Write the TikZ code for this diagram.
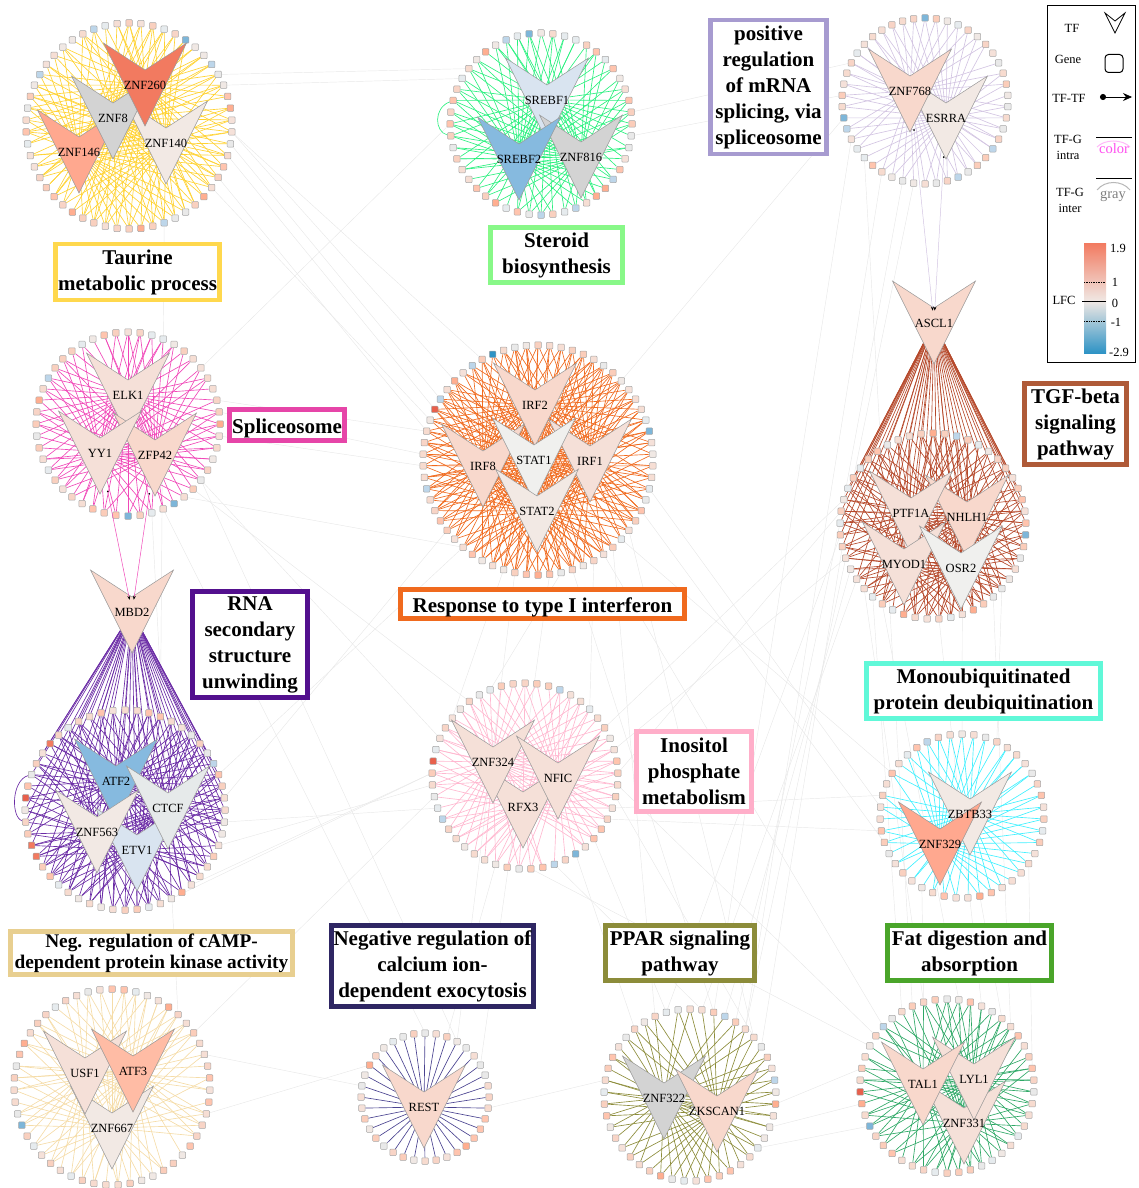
\documentclass[tikz,border=0pt]{standalone}
\usepackage{fontspec}
\setmainfont{Liberation Serif}
\usepackage{tikz}
\usetikzlibrary{arrows.meta, positioning, calc}
\usepackage{xcolor}
% tf fills
\definecolor{tfred}{HTML}{F27A60}
\definecolor{tfsalmon}{HTML}{FFA88F}
\definecolor{tfcoral}{HTML}{FFBCA5}
\definecolor{tfpeach}{HTML}{F8D8CC}
\definecolor{tfblush}{HTML}{F5E0D8}
\definecolor{tfcream}{HTML}{F2E9E4}
\definecolor{tfsnow}{HTML}{F0F0EE}
\definecolor{tfgray}{HTML}{D3D3D3}
\definecolor{tfmist}{HTML}{E6EAEA}
\definecolor{tfice}{HTML}{D9E4F0}
\definecolor{tfsky}{HTML}{86BADF}
% gene fills
\definecolor{g0}{HTML}{F8D4C6}
\definecolor{g1}{HTML}{F7DBCF}
\definecolor{g2}{HTML}{F5E1D9}
\definecolor{g3}{HTML}{F0E8E4}
\definecolor{g4}{HTML}{E9E9E9}
\definecolor{g5}{HTML}{FBCDBA}
\definecolor{g6}{HTML}{FFC4AE}
\definecolor{g7}{HTML}{F9D0BF}
\definecolor{g8}{HTML}{F6DED4}
\definecolor{g9}{HTML}{E6EBEE}
\definecolor{gblue}{HTML}{7DB6D9}
\definecolor{gpale}{HTML}{BDD6EA}
\definecolor{gdeep}{HTML}{2E93C5}
\definecolor{gorange}{HTML}{FFAE90}
\definecolor{gred}{HTML}{E8604C}
% module colours
\definecolor{cyellow}{HTML}{FFD84D}
\definecolor{cgreen}{HTML}{88F888}
\definecolor{clilac}{HTML}{A79BD0}
\definecolor{cmagenta}{HTML}{E645A8}
\definecolor{corange}{HTML}{F06A1E}
\definecolor{cviolet}{HTML}{53108E}
\definecolor{cbrown}{HTML}{AF5A38}
\definecolor{caqua}{HTML}{60F8D8}
\definecolor{cpink}{HTML}{FFAEC9}
\definecolor{csand}{HTML}{E8CF90}
\definecolor{cindigo}{HTML}{2E2663}
\definecolor{colive}{HTML}{8C8C3A}
\definecolor{cleaf}{HTML}{4AA52A}
% edge colours
\definecolor{eyellow}{HTML}{FFD232}
\definecolor{egreen}{HTML}{2BF07F}
\definecolor{elilac}{HTML}{D3C5E2}
\definecolor{ebrown}{HTML}{B5482A}
\definecolor{epink}{HTML}{F048B8}
\definecolor{eviolet}{HTML}{6A2BA5}
\definecolor{erose}{HTML}{FFB8D0}
\definecolor{ecyan}{HTML}{40F0FF}
\definecolor{esand}{HTML}{F5DCA8}
\definecolor{eindigo}{HTML}{4A4390}
\definecolor{eleaf}{HTML}{2EA866}
\definecolor{lmagenta}{HTML}{FF50F0}
\pgfdeclarelayer{interlayer}
\pgfdeclarelayer{edgelayer}
\pgfsetlayers{interlayer,edgelayer,main}
\tikzset{
    gene/.style={rectangle, draw=black!35, line width=0.5pt, rounded corners=0.8pt,
                 minimum size=6.5pt, inner sep=0pt},
    tfshape/.style={draw=black!40, line width=0.5pt},
    tflabel/.style={inner sep=0pt, font=\fontsize{12.5}{14}\selectfont},
    tfg/.style={line width=0.65pt},
    tftf/.style={line width=0.5pt, {Circle[length=1.6pt,black]}-{Stealth[length=4pt,black]},
                 shorten <=34pt, shorten >=8pt},
    inter/.style={draw=black!9, line width=0.45pt},
    term/.style={rectangle, draw, line width=4.5pt, fill=white, align=center, inner sep=0pt,
                 font=\fontsize{21}{26}\selectfont\bfseries,
                 execute at begin node={\rule{0pt}{1.05em}}},
    legendtext/.style={inner sep=0pt, align=center, font=\fontsize{12.5}{16}\selectfont},
}
% ring: name, cx, cy, r, count, edge colour, edge density, accents, tf list
\newcommand{\genering}[9]{%
  \pgfmathtruncatemacro{\lastg}{#5-1}%
  \foreach \i/\hue in {#8} {\expandafter\xdef\csname hue#1-\i\endcsname{\hue}}%
  \foreach \i in {0,...,\lastg} {
    \pgfmathrandominteger{\k}{0}{9}
    \ifcsname hue#1-\i\endcsname \edef\gc{\csname hue#1-\i\endcsname}\else \edef\gc{g\k}\fi
    \node[gene, fill=\gc] (#1-\i) at ({#2+#4*cos(360/#5*\i-90)},{#3+#4*sin(360/#5*\i-90)}) {};
  }
  \foreach \tf/\tx/\ty/\tc in {#9} {
    \draw[tfshape, fill=\tc, shift={(\tx,\ty)}] (-41.5,-42) -- (0,-15) -- (41.5,-42) -- (0,41) -- cycle;
  }
  \foreach \tf/\tx/\ty/\tc in {#9} {
    \node[tflabel] (\tf) at (\tx,\ty) {\tf};
  }
  \begin{pgfonlayer}{edgelayer}
  \foreach \i in {0,...,\lastg} {
    \foreach \tf/\tx/\ty/\tc in {#9} {
      \pgfmathrandominteger{\k}{0}{99}
      \ifnum\k<#7\relax \draw[tfg, draw=#6] (\tf) -- (#1-\i); \fi
    }
  }
  \end{pgfonlayer}
}
\begin{document}
\begin{tikzpicture}[x=1pt, y=-1pt]
\useasboundingbox (0,0) rectangle (1139,1188);
\pgfmathsetseed{7}
\genering{taurine}{129}{126}{103}{54}{eyellow}{82}
  {5/gblue, 8/gpale, 12/gorange, 20/gorange, 24/gpale, 26/gorange, 32/gorange, 45/gpale, 51/gpale}
  {ZNF146/79/152/tfsalmon, ZNF140/166/143/tfcream, ZNF8/113/118/tfgray, ZNF260/145/85/tfred}
\genering{steroid}{541}{124}{91}{48}{egreen}{80}
  {47/gblue, 45/gpale, 43/gorange, 28/gorange, 24/gpale, 21/gpale, 19/gorange, 18/gorange, 17/gpale}
  {SREBF1/547/100/tfice, ZNF816/581/157/tfgray, SREBF2/519/159/tfsky}
\genering{splicing}{925}{101}{83}{46}{elilac}{85}
  {0/gblue, 33/gblue, 32/gpale, 16/gpale, 20/gpale}
  {ESRRA/946/118/tfcream, ZNF768/910/91/tfpeach}
\genering{tgf}{933}{526}{93}{49}{ebrown}{85}
  {2/gpale, 13/gblue, 0/gorange, 21/gorange, 27/gorange}
  {ASCL1/934/323/tfpeach, NHLH1/967/517/tfpeach, PTF1A/911/513/tfblush, MYOD1/904/564/tfblush, OSR2/961/568/tfsnow}
\genering{spliceo}{128}{424}{92}{48}{epink}{80}
  {24/gblue, 20/gblue, 12/gorange, 38/gorange, 40/gpale}
  {ELK1/128/395/tfblush, ZFP42/155/455/tfpeach, YY1/100/453/tfblush}
\genering{rna}{125}{810}{100}{52}{eviolet}{82}
  {45/tfred, 40/gred, 36/tfred, 35/tfred, 9/gpale, 21/gorange}
  {MBD2/132/612/tfpeach, ETV1/137/850/tfice, ATF2/116/781/tfsky, CTCF/168/808/tfmist, ZNF563/97/832/tfcream}
\genering{ifn}{538}{460}{115}{62}{corange}{82}
  {58/gdeep, 56/gpale, 54/gorange, 52/gpale, 51/gred, 13/gblue, 44/gpale, 31/gorange}
  {IRF2/535/405/tfpeach, IRF8/483/466/tfpeach, IRF1/590/461/tfblush, STAT1/534/460/tfsnow, STAT2/537/511/tfcream}
\genering{inositol}{525}{776}{93}{49}{erose}{85}
  {38/gred, 20/gblue, 33/gpale, 3/gpale, 22/gpale}
  {RFX3/523/807/tfblush, ZNF324/493/762/tfblush, NFIC/558/778/tfblush}
\genering{monoub}{962}{816}{82}{43}{ecyan}{85}
  {40/gpale, 20/gorange}
  {ZBTB33/970/814/tfcream, ZNF329/940/844/tfsalmon}
\genering{camp}{112}{1087}{98}{51}{esand}{70}
  {35/gblue, 5/gorange, 42/gorange}
  {ZNF667/112/1128/tfcream, USF1/85/1073/tfblush, ATF3/133/1071/tfcoral}
\genering{rest}{425}{1097}{64}{36}{eindigo}{100}
  {30/gorange, 14/gorange}
  {REST/424/1107/tfpeach}
\genering{ppar}{690}{1095}{86}{45}{colive}{85}
  {3/gpale, 12/gorange, 25/gorange, 10/gpale}
  {ZNF322/664/1098/tfgray, ZKSCAN1/717/1111/tfpeach}
\genering{fat}{947}{1086}{87}{46}{eleaf}{80}
  {34/gred, 31/gblue, 33/gorange, 40/gpale}
  {ZNF331/964/1123/tfblush, LYL1/974/1079/tfblush, TAL1/923/1084/tfpeach}
% gene to gene loops
\begin{pgfonlayer}{edgelayer}
\draw[tfg, draw=egreen] (steroid-38) .. controls +(-20,8) and +(-16,-4) .. (steroid-35);
\draw[tfg, draw=eviolet] (rna-42) .. controls +(-20,6) and +(-15,-5) .. (rna-38);
\end{pgfonlayer}
% tf to tf
\draw[tftf, draw=epink] (YY1) -- (MBD2);
\draw[tftf, draw=epink] (ZFP42) -- (MBD2);
\draw[tftf, draw=elilac] (ZNF768) -- (ASCL1);
\draw[tftf, draw=elilac] (ESRRA) -- (ASCL1);
% between modules
\begin{pgfonlayer}{interlayer}
\foreach \from/\to in {taurine-14/ifn-57, taurine-14/ifn-54, taurine-15/ifn-52, taurine-16/ifn-51,
    taurine-9/steroid-41, taurine-10/steroid-40, steroid-36/spliceo-7, taurine-18/ifn-49, taurine-19/ifn-50,
    spliceo-10/ifn-49, spliceo-11/ifn-47, spliceo-13/ifn-46, spliceo-17/inositol-40, spliceo-18/inositol-44,
    spliceo-19/ifn-38, spliceo-17/rest-3, spliceo-21/rest-0, spliceo-22/camp-6, taurine-24/rna-3,
    rna-12/ifn-40, rna-14/inositol-34, rna-16/inositol-36, rna-20/inositol-37, rna-22/inositol-37,
    rna-10/ifn-38, camp-8/inositol-35, camp-10/rest-28, camp-15/rest-30,
    tgf-35/ppar-7, tgf-34/ppar-5, tgf-33/ppar-3, tgf-32/ppar-1, tgf-31/fat-44, tgf-30/fat-42, tgf-29/fat-1,
    tgf-36/ppar-43, tgf-37/ppar-4, tgf-38/inositol-12, tgf-39/inositol-8,
    ifn-28/ppar-2, ifn-25/fat-40, ifn-20/monoub-30, ifn-30/rest-6, ifn-33/rest-3, ifn-22/ppar-6, ifn-18/monoub-33,
    ifn-26/inositol-6, ifn-29/inositol-46, ifn-34/inositol-42, ifn-24/ppar-42, ifn-23/monoub-36,
    inositol-18/ppar-43, inositol-20/ppar-40, inositol-24/fat-38, inositol-15/monoub-34, inositol-16/monoub-31,
    inositol-27/rest-2, inositol-22/ppar-1, inositol-13/fat-39, inositol-10/tgf-34, inositol-14/ppar-6,
    splicing-25/tgf-39, splicing-27/ppar-5, splicing-29/fat-43, splicing-31/ppar-2, splicing-24/tgf-41,
    splicing-33/ifn-8, steroid-13/splicing-35, steroid-11/splicing-38,
    tgf-18/monoub-3, tgf-22/monoub-0, tgf-24/fat-3, tgf-19/fat-6,
    monoub-20/fat-5, monoub-25/fat-44, monoub-15/fat-10,
    rest-10/ppar-35, ppar-12/fat-36, ppar-14/fat-33, ppar-16/fat-31} {
  \draw[inter] (\from) -- (\to);
}
\end{pgfonlayer}
% module boxes
\node[term, draw=cyellow, minimum width=164pt, minimum height=56pt] (taurinebox) at (137.5,272) {Taurine\\metabolic process};
\node[term, draw=cgreen, minimum width=132pt, minimum height=55pt] (steroidbox) at (556.5,255) {Steroid\\biosynthesis};
\node[term, draw=clilac, minimum width=116pt, minimum height=134pt] (splicingbox) at (768.5,87) {positive\\regulation\\of mRNA\\splicing, via\\spliceosome};
\node[term, draw=cmagenta, minimum width=115pt, minimum height=31pt] (spliceobox) at (287,425) {Spliceosome};
\node[term, draw=corange, minimum width=284pt, minimum height=29pt] (ifnbox) at (542.5,604) {Response to type I interferon};
\node[term, draw=cviolet, minimum width=115pt, minimum height=106pt] (rnabox) at (250,644.5) {RNA\\secondary\\structure\\unwinding};
\node[term, draw=cbrown, minimum width=102pt, minimum height=81pt] (tgfbox) at (1075.5,424) {TGF-beta\\signaling\\pathway};
\node[term, draw=caqua, minimum width=234pt, minimum height=55pt] (monoubbox) at (983.5,691) {Monoubiquitinated\\protein deubiquitination};
\node[term, draw=cpink, minimum width=115pt, minimum height=80pt] (inositolbox) at (694,771.5) {Inositol\\phosphate\\metabolism};
\node[term, draw=csand, minimum width=282pt, minimum height=43pt, font=\fontsize{19.3}{21}\selectfont\bfseries] (campbox) at (151.5,953) {Neg. regulation of cAMP-\\dependent protein kinase activity};
\node[term, draw=cindigo, minimum width=202pt, minimum height=81pt] (restbox) at (432.5,966) {Negative regulation of\\calcium ion-\\dependent exocytosis};
\node[term, draw=colive, minimum width=149pt, minimum height=55pt] (pparbox) at (680,953) {PPAR signaling\\pathway};
\node[term, draw=cleaf, minimum width=164pt, minimum height=55pt] (fatbox) at (969.5,953) {Fat digestion and\\absorption};
% legend
\node[draw=black, line width=0.7pt, fill=white, minimum width=88pt, minimum height=357pt, inner sep=0pt] (legend) at (1091,183.5) {};
\node[legendtext] (ltf) at (1072,28) {TF};
\draw[black, line width=0.8pt] (1105,13) -- (1115,21) -- (1125,13) -- (1115,33) -- cycle;
\node[legendtext] (lgene) at (1068,59) {Gene};
\node[draw=black, line width=1pt, rounded corners=3.5pt, minimum size=18pt, inner sep=0pt] (lbox) at (1114,63.5) {};
\node[legendtext] (ltftf) at (1069,98) {TF-TF};
\coordinate (larrowa) at (1100,97);
\coordinate (larrowb) at (1132,97);
\draw[black, line width=0.7pt, {Circle[length=6pt]}-{Stealth[length=9pt,width=8pt]}] (larrowa) -- (larrowb);
\node[legendtext] (lintra) at (1068,147) {TF-G\\intra};
\coordinate (lintraa) at (1096,137);
\coordinate (lintrab) at (1132,137);
\draw[black, line width=0.8pt] (lintraa) -- (lintrab);
\draw[lmagenta!40, line width=1pt] (1097,147) .. controls (1105,139) and (1122,139) .. (1130,147);
\node[inner sep=0pt, text=lmagenta, font=\fontsize{14.5}{16}\selectfont] (lcolor) at (1114,149) {color};
\node[legendtext] (linter) at (1070,200) {TF-G\\inter};
\coordinate (lintera) at (1096,178);
\coordinate (linterb) at (1132,178);
\draw[black, line width=0.8pt] (lintera) -- (linterb);
\draw[black!28, line width=1pt] (1097,190) .. controls (1105,180) and (1122,180) .. (1130,190);
\node[inner sep=0pt, text=black!50, font=\fontsize{14.5}{16}\selectfont] (lgray) at (1113,196) {gray};
% colour bar
\shade[top color=tfred, middle color=gorange!70, bottom color=g3] (1084,243) rectangle (1106,301);
\shade[top color=g3, middle color=gblue!85, bottom color=gdeep] (1084,301) rectangle (1106,353);
\draw[black, line width=0.7pt, densely dotted] (1084,282) -- (1106,282);
\draw[black, line width=0.7pt] (1082,301) -- (1106,301);
\draw[black, line width=0.7pt, densely dotted] (1084,321) -- (1106,321);
\node[legendtext] (lfc) at (1064,300) {LFC};
\node[legendtext] (tickone) at (1118,248) {1.9};
\node[legendtext] (ticktwo) at (1115,282) {1};
\node[legendtext] (tickzero) at (1115,303) {0};
\node[legendtext] (tickminus) at (1116,322) {-1};
\node[legendtext] (tickend) at (1119,352) {-2.9};
\end{tikzpicture}
\end{document}
